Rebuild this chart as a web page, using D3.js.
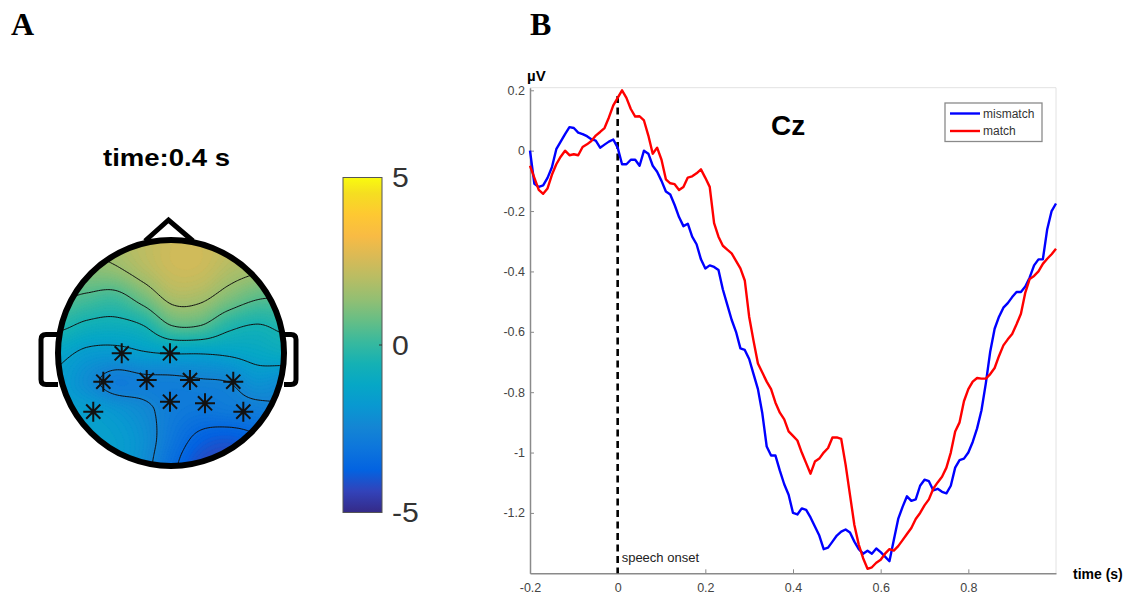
<!DOCTYPE html>
<html>
<head>
<meta charset="utf-8">
<script src="https://cdn.jsdelivr.net/npm/d3@7"></script>
<style>
  body { margin: 0; background: #fff; }
  svg { display: block; }
</style>
</head>
<body>
<svg id="fig" width="1142" height="595"></svg>
<script>
// ---------------- ERP data at Cz (µV), sampled every 10 ms from -0.2 s to 1.0 s ----------------
const timeStart = -0.2;
const timeStep = 0.01;
const mismatch = [
  0.0, -0.11, -0.12, -0.115, -0.09, -0.055, 0.005, 0.03, 0.055, 0.078,
  0.075, 0.06, 0.055, 0.048, 0.038, 0.033, 0.01, 0.02, 0.03, 0.037,
  0.01, -0.045, -0.045, -0.03, -0.03, -0.05, 0.0, -0.01, -0.05, -0.07,
  -0.1, -0.135, -0.145, -0.18, -0.22, -0.25, -0.242, -0.285, -0.31, -0.36,
  -0.39, -0.38, -0.385, -0.395, -0.46, -0.51, -0.56, -0.6, -0.655, -0.66,
  -0.69, -0.74, -0.79, -0.87, -0.98, -1.01, -1.01, -1.06, -1.105, -1.14,
  -1.2, -1.205, -1.185, -1.19, -1.215, -1.245, -1.275, -1.32, -1.315, -1.295,
  -1.275, -1.262, -1.255, -1.265, -1.295, -1.32, -1.335, -1.325, -1.335, -1.318,
  -1.33, -1.345, -1.36, -1.29, -1.22, -1.18, -1.145, -1.16, -1.155, -1.11,
  -1.09, -1.095, -1.125, -1.12, -1.13, -1.135, -1.11, -1.05, -1.025, -1.02,
  -1.0, -0.965, -0.92, -0.86, -0.77, -0.665, -0.59, -0.55, -0.52, -0.505,
  -0.485, -0.468, -0.468, -0.45, -0.42, -0.38, -0.36, -0.36, -0.26, -0.2,
  -0.175
];
const match = [
  -0.05, -0.09, -0.13, -0.143, -0.125, -0.08, -0.045, -0.02, 0.0, -0.015,
  -0.012, -0.015, 0.012, 0.021, 0.032, 0.05, 0.062, 0.075, 0.11, 0.15,
  0.175, 0.2, 0.175, 0.138, 0.113, 0.114, 0.1, 0.05, -0.01, 0.01,
  -0.03, -0.095, -0.108, -0.111, -0.13, -0.12, -0.089, -0.085, -0.075, -0.062,
  -0.09, -0.12, -0.24, -0.285, -0.315, -0.328, -0.34, -0.365, -0.39, -0.43,
  -0.55, -0.63, -0.705, -0.735, -0.765, -0.79, -0.835, -0.868, -0.89, -0.93,
  -0.945, -0.96, -1.0, -1.035, -1.07, -1.03, -1.02, -1.0, -0.985, -0.95,
  -0.95, -0.955, -1.04, -1.14, -1.24, -1.305, -1.35, -1.385, -1.38, -1.365,
  -1.355, -1.335, -1.32, -1.325, -1.31, -1.29, -1.27, -1.25, -1.22, -1.2,
  -1.175, -1.155, -1.12, -1.099, -1.08, -1.05, -1.0, -0.93, -0.9, -0.83,
  -0.79, -0.765, -0.753, -0.755, -0.755, -0.74, -0.72, -0.68, -0.645, -0.625,
  -0.607, -0.575, -0.54, -0.47, -0.425, -0.415, -0.4, -0.375, -0.358, -0.343,
  -0.325
];
const seriesNames = ["mismatch", "match"];
const xTicks = [-0.2, 0, 0.2, 0.4, 0.6, 0.8];
const xTickLabels = ["-0.2", "0", "0.2", "0.4", "0.6", "0.8"];
const yTicks = [0.2, 0, -0.2, -0.4, -0.6, -0.8, -1, -1.2];
const yTickLabels = ["0.2", "0", "-0.2", "-0.4", "-0.6", "-0.8", "-1", "-1.2"];
const onsetTime = 0;

// ---------------- Scalp topography at 0.4 s (µV) on a 9 x 9 grid, head-normalised coords ----------------
const topoX = [-1, -0.75, -0.5, -0.25, 0, 0.25, 0.5, 0.75, 1];
const topoY = [-1, -0.75, -0.5, -0.25, 0, 0.25, 0.5, 0.75, 1];
const topoValues = [
  [1.3, 1.5, 1.8, 2.1, 2.4, 2.4, 2.2, 1.9, 1.6],
  [1.0, 1.2, 1.4, 1.9, 2.35, 2.35, 1.9, 1.6, 1.2],
  [0.6, 0.35, 0.2, 0.9, 1.75, 1.7, 1.1, 0.6, 0.5],
  [-0.3, -0.7, -0.8, -0.5, 0.5, 0.5, -0.25, -0.55, -0.3],
  [-1.3, -1.7, -1.8, -1.6, -1.5, -1.5, -1.4, -1.2, -1.0],
  [-1.6, -2.2, -2.8, -2.7, -2.7, -2.6, -2.5, -2.0, -2.2],
  [-1.5, -1.6, -1.9, -2.3, -2.8, -3.0, -2.9, -2.8, -2.6],
  [-1.5, -1.5, -1.6, -2.1, -3.0, -3.7, -3.9, -3.6, -3.2],
  [-1.5, -1.5, -1.6, -2.2, -3.3, -4.2, -4.4, -4.0, -3.5]
];
const contourLevels = [-3.5, -2.5, -1.5, -0.5, 0.5, 1.5];
// significant electrodes, head-normalised [x, y]
const electrodes = [
  [-0.436, 0.003], [-0.009, 0.003], [-0.599, 0.254], [-0.215, 0.239], [0.168, 0.239],
  [0.551, 0.254], [-0.688, 0.519], [-0.009, 0.431], [0.301, 0.445], [0.640, 0.519]
];
const colorLimits = [-5, 5];
const colorbarTicks = [5, 0, -5];
const topoTitle = "time:0.4 s";

// parula colour map
const parulaHex = ["#352a87", "#3243ba", "#0363e1", "#0d75dc", "#1485d4", "#0998d1", "#06a7c6",
  "#15b1b4", "#38b99e", "#65be86", "#92bf73", "#b7bd64", "#d9ba56", "#f8bb44", "#fec832",
  "#f5de21", "#f9fb0e"];
const parulaPos = [0, 4, 8, 12, 16, 20, 24, 28, 32, 36, 40, 44, 48, 52, 56, 60, 63].map(i => i / 63);
const color = d3.scaleLinear()
  .domain(parulaPos.map(p => colorLimits[0] + p * (colorLimits[1] - colorLimits[0])))
  .range(parulaHex).clamp(true);

const svg = d3.select("#fig");

// ---------------- Panel labels ----------------
svg.append("text").attr("x", 11).attr("y", 35).text("A")
  .attr("font-family", "Liberation Serif, Times New Roman, serif").attr("font-weight", "bold").attr("font-size", 32);
svg.append("text").attr("x", 530).attr("y", 35).text("B")
  .attr("font-family", "Liberation Serif, Times New Roman, serif").attr("font-weight", "bold").attr("font-size", 32);

// ---------------- Panel A: topography ----------------
const head = { cx: 171, cy: 353, r: 113 };
svg.append("text").attr("x", 103).attr("y", 166).text(topoTitle)
  .attr("font-family", "Liberation Sans, Arial, sans-serif").attr("font-weight", "bold")
  .attr("font-size", 24).attr("textLength", 127).attr("lengthAdjust", "spacingAndGlyphs");

function cubic(p0, p1, p2, p3, t) {
  return p1 + 0.5 * t * (p2 - p0 + t * (2 * p0 - 5 * p1 + 4 * p2 - p3 + t * (3 * (p1 - p2) + p3 - p0)));
}
function sampleTopo(u, v) {
  const n = topoX.length;
  const step = topoX[1] - topoX[0];
  const gx = (Math.max(topoX[0], Math.min(topoX[n - 1], u)) - topoX[0]) / step;
  const gy = (Math.max(topoY[0], Math.min(topoY[n - 1], v)) - topoY[0]) / step;
  const ix = Math.floor(gx), iy = Math.floor(gy);
  const fx = gx - ix, fy = gy - iy;
  const cl = k => Math.max(0, Math.min(n - 1, k));
  const rows = [];
  for (let m = -1; m <= 2; m++) {
    const r = topoValues[cl(iy + m)];
    rows.push(cubic(r[cl(ix - 1)], r[cl(ix)], r[cl(ix + 1)], r[cl(ix + 2)], fx));
  }
  return cubic(rows[0], rows[1], rows[2], rows[3], fy);
}

const N = 140, ext = 1.06;
const field = new Float64Array(N * N);
for (let j = 0; j < N; j++) {
  for (let i = 0; i < N; i++) {
    const u = -ext + 2 * ext * i / (N - 1);
    const v = -ext + 2 * ext * j / (N - 1);
    field[j * N + i] = sampleTopo(u, v);
  }
}
const toUnit = g => -ext + 2 * ext * g / (N - 1);
const gridPath = d3.geoPath(d3.geoTransform({
  point(x, y) { this.stream.point(head.cx + toUnit(x) * head.r, head.cy + toUnit(y) * head.r); }
}));

const defs = svg.append("defs");
defs.append("clipPath").attr("id", "scalp")
  .append("circle").attr("cx", head.cx).attr("cy", head.cy).attr("r", head.r);

const topo = svg.append("g").attr("clip-path", "url(#scalp)");
const fillLevels = d3.range(-5, 5, 0.1);
topo.selectAll("path.band")
  .data(d3.contours().size([N, N]).thresholds(fillLevels)(field))
  .join("path").attr("class", "band")
  .attr("d", gridPath)
  .attr("fill", d => color(d.value + 0.05))
  .attr("stroke", d => color(d.value + 0.05)).attr("stroke-width", 0.5);
topo.selectAll("path.iso")
  .data(d3.contours().size([N, N]).thresholds(contourLevels)(field))
  .join("path").attr("class", "iso")
  .attr("d", gridPath)
  .attr("fill", "none").attr("stroke", "#111").attr("stroke-width", 1);

// head outline, nose and ears
const outline = svg.append("g").attr("fill", "none").attr("stroke", "#000").attr("stroke-linejoin", "miter");
outline.append("path").attr("d", "M145,241 L168.5,220 L193,241").attr("stroke-width", 5);
outline.append("path").attr("d", "M58,334.5 L46,334.5 Q41,334.5 41,339.5 L41,379.5 Q41,384.5 46,384.5 L58,384.5")
  .attr("stroke-width", 5).attr("stroke-linejoin", "round");
outline.append("path").attr("d", "M284,334.5 L291,334.5 Q296,334.5 296,339.5 L296,379.5 Q296,384.5 291,384.5 L284,384.5")
  .attr("stroke-width", 5).attr("stroke-linejoin", "round");
outline.append("circle").attr("cx", head.cx).attr("cy", head.cy).attr("r", head.r).attr("stroke-width", 6);

// electrode markers (asterisks)
const star = svg.append("g").attr("stroke", "#111").attr("stroke-width", 2);
electrodes.forEach(([u, v]) => {
  const px = head.cx + u * head.r, py = head.cy + v * head.r, s = 10, d = 7.07;
  star.append("path").attr("d",
    `M${px - s},${py}L${px + s},${py}M${px},${py - s}L${px},${py + s}` +
    `M${px - d},${py - d}L${px + d},${py + d}M${px - d},${py + d}L${px + d},${py - d}`);
});

// colour bar
const cb = { x: 343, y0: 177.5, y1: 512.5, w: 39 };
const grad = defs.append("linearGradient").attr("id", "cbgrad")
  .attr("x1", 0).attr("y1", 1).attr("x2", 0).attr("y2", 0);
grad.selectAll("stop").data(parulaPos).join("stop")
  .attr("offset", d => d).attr("stop-color", (d, i) => parulaHex[i]);
const cbScale = d3.scaleLinear().domain(colorLimits).range([cb.y1, cb.y0]);
svg.append("rect").attr("x", cb.x).attr("y", cb.y0).attr("width", cb.w).attr("height", cb.y1 - cb.y0)
  .attr("fill", "url(#cbgrad)").attr("stroke", "#555").attr("stroke-width", 1);
svg.append("line").attr("x1", cb.x + cb.w - 3).attr("x2", cb.x + cb.w)
  .attr("y1", cbScale(0)).attr("y2", cbScale(0)).attr("stroke", "#333");
svg.selectAll("text.cbt").data(colorbarTicks).join("text").attr("class", "cbt")
  .attr("x", 392).attr("y", d => cbScale(d)).attr("dy", "0.36em")
  .attr("font-family", "Liberation Sans, Arial, sans-serif").attr("font-size", 27).attr("fill", "#333")
  .text(d => String(d))
  .attr("transform", `translate(${392 * -0.12},0) scale(1.12,1)`);

// ---------------- Panel B: ERP waveforms ----------------
const plot = { left: 530, right: 1056, top: 87.7, bottom: 573.3 };
const times = mismatch.map((_, i) => timeStart + i * timeStep);
const x = d3.scaleLinear().domain([-0.2, 1.0]).range([plot.left, plot.right]);
const y = d3.scaleLinear().domain([-1.4, 0.2086]).range([plot.bottom, plot.top]);

// light frame on top and right
svg.append("path")
  .attr("d", `M${plot.left},${plot.top}H${plot.right}V${plot.bottom}`)
  .attr("fill", "none").attr("stroke", "#e2e2e2").attr("stroke-width", 1);

const font = "Liberation Sans, Arial, sans-serif";
const yAxis = svg.append("g").attr("transform", `translate(${plot.left},0)`)
  .call(d3.axisLeft(y).tickValues(yTicks).tickFormat((d, i) => yTickLabels[i])
    .tickSizeInner(-4).tickSizeOuter(0).tickPadding(5));
const xAxis = svg.append("g").attr("transform", `translate(0,${plot.bottom})`)
  .call(d3.axisBottom(x).tickValues(xTicks).tickFormat((d, i) => xTickLabels[i])
    .tickSizeInner(-4).tickSizeOuter(0).tickPadding(10));
[xAxis, yAxis].forEach(a => {
  a.select(".domain").attr("stroke", "#8a8a8a").attr("stroke-width", 1.5);
  a.selectAll(".tick line").attr("stroke", "#8a8a8a");
  a.selectAll(".tick text").attr("font-family", font).attr("font-size", 12.5).attr("fill", "#444");
});

// speech onset marker
svg.append("line").attr("x1", x(onsetTime)).attr("x2", x(onsetTime))
  .attr("y1", 96).attr("y2", plot.bottom)
  .attr("stroke", "#000").attr("stroke-width", 2.6).attr("stroke-dasharray", "7,4.5");
svg.append("text").attr("x", x(onsetTime) + 4).attr("y", 562).text("speech onset")
  .attr("font-family", font).attr("font-size", 13).attr("fill", "#222");

const line = d3.line().x((d, i) => x(times[i])).y(d => y(d));
const seriesColors = ["#0000ff", "#ff0000"];
[mismatch, match].forEach((s, k) => {
  svg.append("path").datum(s).attr("d", line)
    .attr("fill", "none").attr("stroke", seriesColors[k]).attr("stroke-width", 2.4)
    .attr("stroke-linejoin", "round");
});

// axis titles and channel label
svg.append("text").attr("x", 527).attr("y", 81).text("µV")
  .attr("font-family", font).attr("font-weight", "bold").attr("font-size", 15);
svg.append("text").attr("x", 1073).attr("y", 579).text("time (s)")
  .attr("font-family", font).attr("font-weight", "bold").attr("font-size", 14);
svg.append("text").attr("x", 771).attr("y", 135).text("Cz")
  .attr("font-family", font).attr("font-weight", "bold").attr("font-size", 28);

// legend
const lg = svg.append("g");
lg.append("rect").attr("x", 945).attr("y", 103).attr("width", 97).attr("height", 38.5)
  .attr("fill", "#fff").attr("stroke", "#8a8a8a").attr("stroke-width", 1.3);
seriesNames.forEach((name, k) => {
  const yy = 113.5 + k * 17.5;
  lg.append("line").attr("x1", 950).attr("x2", 980).attr("y1", yy).attr("y2", yy)
    .attr("stroke", seriesColors[k]).attr("stroke-width", 2.4);
  lg.append("text").attr("x", 983).attr("y", yy).attr("dy", "0.35em").text(name)
    .attr("font-family", font).attr("font-size", 12).attr("fill", "#333");
});
</script>
</body>
</html>
